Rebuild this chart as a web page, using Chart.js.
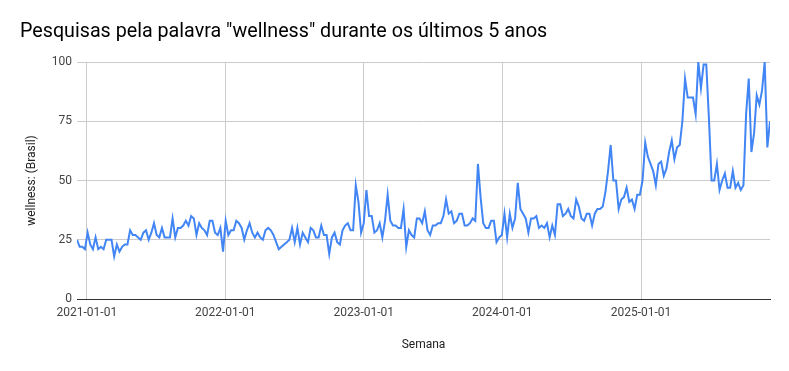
<!DOCTYPE html>
<html>
<head>
<meta charset="utf-8">
<script src="https://cdn.jsdelivr.net/npm/chart.js@4.4.1/dist/chart.umd.min.js"></script>
<style>
html,body{margin:0;padding:0;background:#fff;}
#wrap{width:789px;height:371px;}
</style>
</head>
<body>
<div id="wrap"><canvas id="c" width="789" height="371"></canvas></div>
<script>
// ---- data ----
const chartTitle = 'Pesquisas pela palavra "wellness" durante os últimos 5 anos';
const yAxisTitle = 'wellness: (Brasil)';
const xAxisTitle = 'Semana';
const firstWeek = '2020-12-06';   // first weekly category (Sunday)
const tickLabels = ['2021-01-01', '2022-01-01', '2023-01-01', '2024-01-01', '2025-01-01'];
const yTicks = [0, 25, 50, 75, 100];
const values2021 = [25,22,22,21,28,23,21,26,21,22,21,25,25,25,18,23,20,22,23,23,29,
  27,27,26,25,28,29,25,28,32,27,26,30,26,26,26,34,26,30,30,31,33,31];
const values2022 = [35,34,27,32,30,29,27,33,33,28,27,30,20,33,27,29,29,33,32,30,25,29,32,
  28,26,28,26,25,29,30,29,27,24,21,22,23,24,25,30,24,30,23,28];
const values2023 = [26,24,30,29,26,26,31,27,27,19,26,28,24,23,29,31,32,29,29,48,41,28,
  32,46,35,35,28,29,32,26,33,44,33,31,31,30,30,38,22,29,27,26,34,34,32,37];
const values2024 = [29,27,31,31,32,32,35,42,36,37,32,33,36,36,31,31,32,34,33,57,43,32,
  30,30,33,33,24,26,27,36,26,36,30,34,49,38,36,34,28,34,34,35,30];
const values2025a = [31,30,32,26,31,27,40,40,35,36,38,35,34,42,39,34,33,36,36,31,36,38,
  38,39,45,54,65,50,50,38,42,43,47,41,42,38,44,44,50,66,60,57,54,48];
const values2025b = [57,58,52,55,62,67,59,64,65,75,93,85,85,85,78,100,89,99,99,76,
  50,50,57,46,50,53,47,47,54,47,49,46,48,78,93,62,70,86,82,88,100,64,75];

const values = [].concat(values2021, values2022, values2023, values2024, values2025a, values2025b);
const DAY = 86400000;
const startMs = Date.parse(firstWeek + 'T00:00:00Z');
const weeks = values.map((_, i) => startMs + i * 7 * DAY);
const tickValues = tickLabels.map(s => Date.parse(s + 'T00:00:00Z'));
const points = values.map((v, i) => ({x: weeks[i], y: v}));

const FONT = 'Roboto, "Liberation Sans", Arial, sans-serif';

new Chart(document.getElementById('c'), {
  type: 'line',
  data: {
    datasets: [{
      label: yAxisTitle,
      data: points,
      borderColor: '#4285f4',
      borderWidth: 2,
      pointRadius: 0,
      pointHoverRadius: 0,
      tension: 0,
      fill: false
    }]
  },
  options: {
    responsive: false,
    devicePixelRatio: 1,
    animation: false,
    layout: {padding: {left: 20, right: 19, top: 0, bottom: 0}},
    plugins: {
      legend: {display: false},
      tooltip: {enabled: false},
      title: {
        display: true,
        text: chartTitle,
        align: 'start',
        color: '#000',
        font: {family: FONT, size: 19.7, weight: 'normal', lineHeight: 1.2},
        padding: {top: 20, bottom: 18.4}
      }
    },
    scales: {
      x: {
        type: 'linear',
        min: weeks[0],
        max: weeks[weeks.length - 1],
        afterBuildTicks: (s) => { s.ticks = tickValues.map(v => ({value: v})); },
        afterFit: (s) => { s.height = 72; },
        ticks: {
          autoSkip: false,
          maxRotation: 0,
          padding: 7,
          color: '#444',
          font: {family: FONT, size: 12},
          callback: (v, i) => tickLabels[i]
        },
        grid: {color: '#cccccc', lineWidth: 1, drawTicks: false},
        border: {display: true, color: '#333333', width: 1},
        title: {
          display: true,
          text: xAxisTitle,
          color: '#222',
          font: {family: FONT, size: 12},
          padding: {top: 0, bottom: 18.8}
        }
      },
      y: {
        min: 0,
        max: 100,
        afterBuildTicks: (s) => { s.ticks = yTicks.map(v => ({value: v})); },
        afterFit: (s) => { s.width = 57; },
        ticks: {
          padding: 5,
          color: '#444',
          font: {family: FONT, size: 12}
        },
        grid: {color: (c) => c.tick && c.tick.value === 0 ? 'rgba(0,0,0,0)' : '#cccccc', lineWidth: 1, drawTicks: false},
        border: {display: false},
        title: {
          display: true,
          text: yAxisTitle,
          color: '#222',
          font: {family: FONT, size: 12},
          padding: {top: 5, bottom: 0}
        }
      }
    }
  }
});
</script>
</body>
</html>
